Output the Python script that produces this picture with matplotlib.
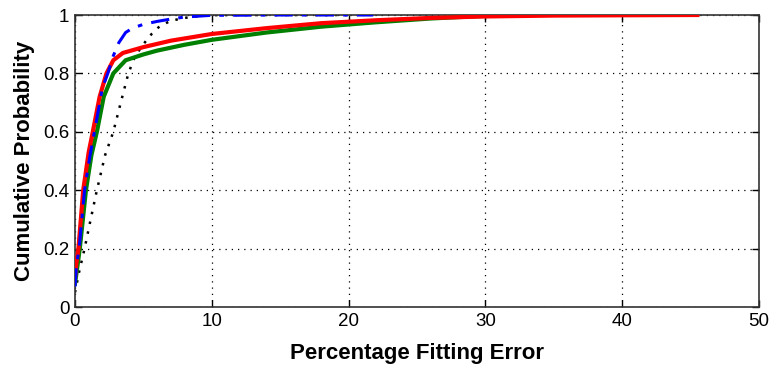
import matplotlib
matplotlib.use("Agg")
import matplotlib.pyplot as plt
import numpy as np

plt.rcParams['font.family'] = ['Liberation Sans', 'DejaVu Sans']

# Estimated CDF curves (x = percentage fitting error, y = cumulative probability)
red_x = [0, 0.1, 0.25, 0.6, 1.0, 1.3, 1.8, 2.3, 2.8, 3.5, 5, 7, 10, 14, 18, 22, 26, 30, 35, 40, 45.5]
red_y = [0.10, 0.15, 0.20, 0.40, 0.53, 0.60, 0.72, 0.80, 0.845, 0.87, 0.89, 0.912, 0.935, 0.955, 0.972, 0.982, 0.99, 0.995, 0.998, 0.999, 1.0]

green_x = [0, 0.15, 0.35, 0.8, 1.2, 1.6, 2.1, 2.8, 3.7, 5, 6, 8, 10, 14, 18, 22, 26, 29, 31.6]
green_y = [0.08, 0.13, 0.20, 0.40, 0.52, 0.60, 0.72, 0.80, 0.845, 0.865, 0.878, 0.898, 0.915, 0.94, 0.96, 0.975, 0.988, 0.995, 1.0]

blue_x = [0, 0.1, 0.3, 0.7, 1.1, 1.5, 2.0, 2.4, 2.8, 3.2, 3.7, 4.2, 5, 6, 7, 8, 10, 15, 21.8]
blue_y = [0.07, 0.14, 0.20, 0.40, 0.52, 0.62, 0.75, 0.80, 0.86, 0.905, 0.94, 0.955, 0.968, 0.978, 0.986, 0.993, 0.999, 1.0, 1.0]

black_x = [0, 0.3, 0.7, 1.1, 1.6, 2.2, 2.8, 3.4, 3.9, 4.4, 5.0, 5.6, 6.2, 7.0, 8.0, 9.0, 10.5, 14, 20]
black_y = [0.05, 0.12, 0.20, 0.29, 0.40, 0.52, 0.60, 0.71, 0.80, 0.86, 0.90, 0.935, 0.962, 0.98, 0.99, 0.996, 1.0, 1.0, 1.0]

x_ticks = [0, 10, 20, 30, 40, 50]
y_ticks = [0, 0.2, 0.4, 0.6, 0.8, 1.0]
y_tick_labels = ['0', '0.2', '0.4', '0.6', '0.8', '1']

fig = plt.figure(figsize=(7.71, 3.73), dpi=100)
ax = fig.add_axes([75/771, 66/373, 684/771, 292/373])

ax.plot(black_x, black_y, color='black', linestyle=(0, (1, 3)), linewidth=1.8, zorder=2)
ax.plot(green_x, green_y, color='#008000', linestyle='-', linewidth=3, zorder=3)
ax.plot(red_x, red_y, color='#ff0000', linestyle='-', linewidth=3, zorder=4)
ax.plot(blue_x, blue_y, color='#0000ff', linestyle=(0, (6, 3, 1.5, 3)), linewidth=2.2, zorder=5)

ax.set_xlim(0, 50)
ax.set_ylim(0, 1)
ax.set_xticks(x_ticks)
ax.set_yticks(y_ticks)
ax.set_yticklabels(y_tick_labels)
ax.tick_params(direction='in', length=5, labelsize=13.5, width=1, top=True, right=True, pad=4)
ax.grid(True, color='black', linestyle=(0, (1, 4)), linewidth=0.9)
for s in ax.spines.values():
    s.set_linewidth(1.2)
    s.set_color('#333333')

ax.set_xlabel('Percentage Fitting Error', fontsize=16, fontweight='bold', labelpad=10)
ax.set_ylabel('Cumulative Probability', fontsize=16, fontweight='bold', labelpad=6)

fig.savefig('out.png', dpi=100)
